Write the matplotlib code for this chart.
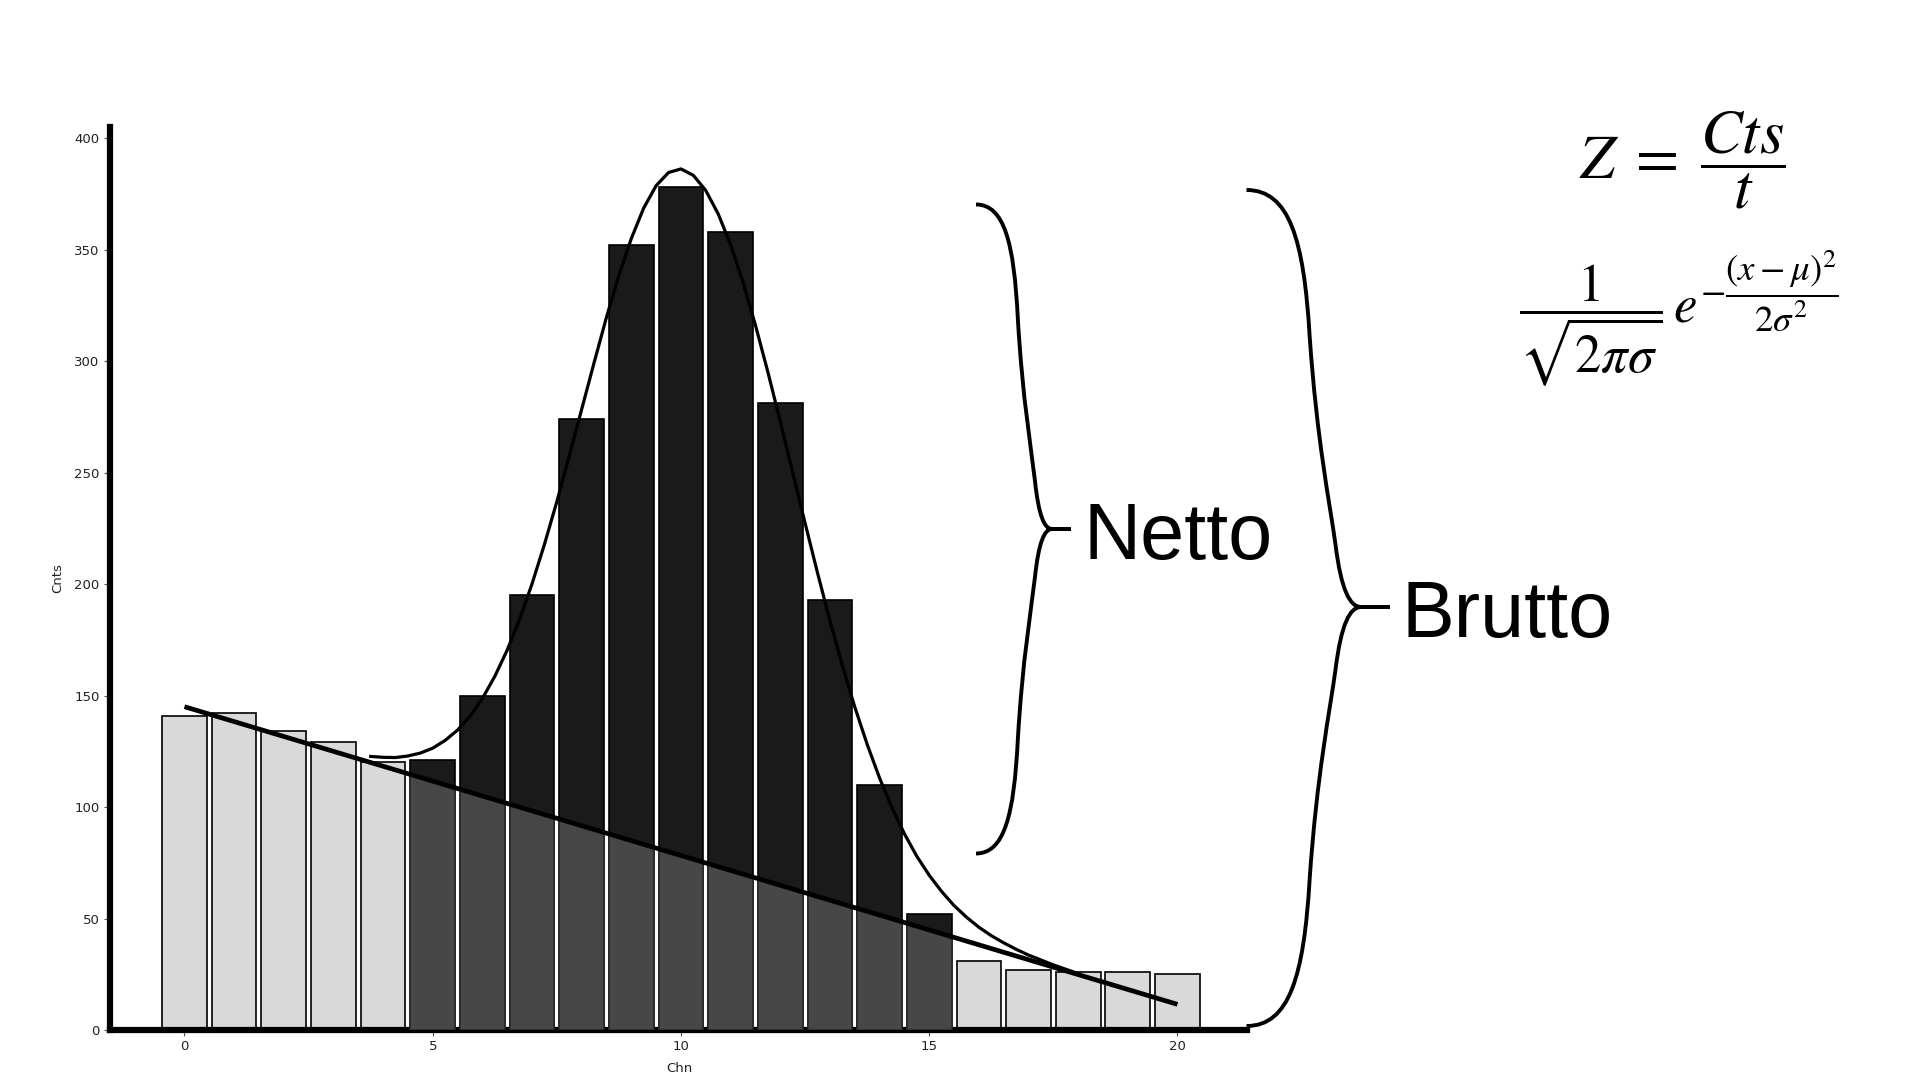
import matplotlib
matplotlib.use("Agg")
import matplotlib.pyplot as plt
from matplotlib.path import Path
from matplotlib.patches import PathPatch, Polygon

# --- data ---
channels = list(range(21))
counts = [141, 142, 134, 129, 120, 121, 150, 195, 274, 352, 378,
          358, 281, 193, 110, 52, 31, 27, 26, 26, 25]
peak_first, peak_last = 5, 15          # channels inside the peak region

# linear background (end points of the straight line)
bg_x = [0, 20]
bg_y = [145, 11.5]

# fitted peak curve (background + gauss)
fit_x = [3.75, 4.0, 4.25, 4.5, 4.75, 5.0, 5.25, 5.5, 5.75, 6.0, 6.25, 6.5,
         6.75, 7.0, 7.25, 7.5, 7.75, 8.0, 8.25, 8.5, 8.75, 9.0, 9.25, 9.5,
         9.75, 10.0, 10.25, 10.5, 10.75, 11.0, 11.25, 11.5, 11.75, 12.0,
         12.25, 12.5, 12.75, 13.0, 13.25, 13.5, 13.75, 14.0, 14.25, 14.5,
         14.75, 15.0, 15.25, 15.5, 15.75, 16.0, 16.25, 16.5, 16.75, 17.0,
         17.5, 18.0]
fit_y = [122.7, 122.3, 122.2, 122.9, 124.2, 126.4, 129.9, 134.5, 140.7,
         148.7, 158.6, 170.4, 184.2, 200.1, 217.8, 237.0, 257.5, 278.4,
         299.3, 319.7, 338.5, 355.0, 368.7, 378.7, 384.6, 386.2, 383.3,
         376.5, 366.0, 352.2, 335.3, 316.1, 295.1, 272.9, 250.0, 227.3,
         205.0, 183.6, 163.5, 144.9, 128.1, 113.0, 99.7, 88.0, 77.9, 69.4,
         62.1, 55.8, 50.6, 46.1, 42.3, 39.1, 36.2, 33.6, 29.2, 25.3]

x_ticks = [0, 5, 10, 15, 20]
y_ticks = [0, 50, 100, 150, 200, 250, 300, 350, 400]

LIGHT = "#d9d9d9"
DARK = "#474747"
BLACK = "#1a1a1a"

plt.rcParams["mathtext.fontset"] = "stix"

fig = plt.figure(figsize=(19.2, 10.8), dpi=100)
ax = fig.add_axes([110 / 1920, 1 - 1030 / 1080, 1137 / 1920, 903 / 1080])

# outer (light) bars
side_idx = [i for i in channels if i < peak_first or i > peak_last]
ax.bar([channels[i] for i in side_idx], [counts[i] for i in side_idx],
       width=0.9, color=LIGHT, edgecolor="black", linewidth=1.2, zorder=2)

# peak bars: black on top, dark grey below the background line
peak_idx = [i for i in channels if peak_first <= i <= peak_last]
px = [channels[i] for i in peak_idx]
py = [counts[i] for i in peak_idx]
ax.bar(px, py, width=0.9, color=BLACK, edgecolor="black", linewidth=1.2, zorder=2)
under = Polygon([(bg_x[0], bg_y[0]), (bg_x[1], bg_y[1]), (bg_x[1], -20), (bg_x[0], -20)],
                closed=True, transform=ax.transData, facecolor="none", edgecolor="none")
ax.add_patch(under)
low_bars = ax.bar(px, py, width=0.9, color=DARK, edgecolor="#2a2a2a", linewidth=1.2, zorder=3)
for p in low_bars:
    p.set_clip_path(under)

ax.plot(bg_x, bg_y, color="black", linewidth=3.4, solid_capstyle="butt", zorder=5)
ax.plot(fit_x, fit_y, color="black", linewidth=2.3, zorder=6)

ax.set_xlim(-1.5, 21.4)
ax.set_ylim(0, 405)
ax.set_xticks(x_ticks)
ax.set_yticks(y_ticks)
ax.tick_params(length=4, width=0.8, color="#555555", labelsize=9.5, labelcolor="#222222")
ax.set_xlabel("Chn", fontsize=9.5, color="#222222")
ax.set_ylabel("Cnts", fontsize=9.5, color="#222222")
ax.xaxis.set_label_coords(0.501, -0.035)
ax.yaxis.set_label_coords(-0.040, 0.5)
for side in ("top", "right"):
    ax.spines[side].set_visible(False)
for side in ("left", "bottom"):
    ax.spines[side].set_linewidth(4.5)
    ax.spines[side].set_color("black")

# --- overlay in pixel coordinates for braces and text ---
ov = fig.add_axes([0, 0, 1, 1], facecolor="none")
ov.set_xlim(0, 1920)
ov.set_ylim(1080, 0)
ov.axis("off")


def brace(x0, xt, yt, ymid, yb):
    """curly brace opening to the right, tip at (xt, ymid)"""
    w = xt - x0
    h1 = ymid - yt
    h2 = yb - ymid
    top = [(0, 0), (0.3, 0), (0.4, 0.12), (0.44, 0.35),
           (0.49, 0.6), (0.58, 0.75), (0.62, 0.85),
           (0.66, 0.96), (0.72, 1.0), (0.8, 1.0)]
    verts = [(x0 + u * w, yt + v * h1) for u, v in top]
    verts.append((xt, ymid))
    verts.append((x0 + 0.8 * w, ymid))
    verts += [(x0 + u * w, ymid + (1 - v) * h2) for u, v in reversed(top[:-1])]
    codes = ([Path.MOVETO] + [Path.CURVE4] * 9 + [Path.LINETO, Path.LINETO]
             + [Path.CURVE4] * 9)
    ov.add_patch(PathPatch(Path(verts, codes), facecolor="none",
                           edgecolor="black", linewidth=2.8, capstyle="butt"))


brace(976, 1071, 204.5, 529, 853.5)
brace(1246.5, 1390, 190, 607, 1026)

label_font = ["Liberation Sans", "DejaVu Sans"]
ov.text(1084, 559, "Netto", fontsize=57, family=label_font, va="baseline", ha="left")
ov.text(1402, 637, "Brutto", fontsize=57, family=label_font, va="baseline", ha="left")

ov.text(1682, 160, r"$Z\;=\;\dfrac{Cts}{t}$", fontsize=45, ha="center", va="center")
ov.text(1679, 318, r"$\dfrac{1}{\sqrt{2\pi\sigma}}\,e^{-\dfrac{(x-\mu)^2}{2\sigma^2}}$",
        fontsize=38, ha="center", va="center")

fig.savefig("out.png", dpi=100, facecolor="white")
